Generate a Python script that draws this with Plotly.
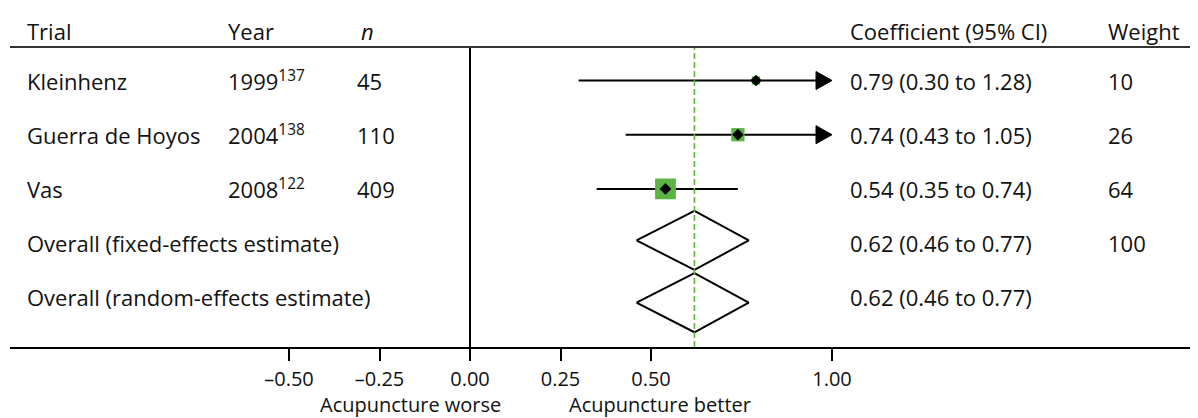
import plotly.graph_objects as go

# ---------------- data ----------------
trials = ["Kleinhenz", "Guerra de Hoyos", "Vas"]
years = ["1999", "2004", "2008"]
refs = ["137", "138", "122"]
n_vals = ["45", "110", "409"]
coef = [0.79, 0.74, 0.54]
ci_low = [0.30, 0.43, 0.35]
ci_high = [1.28, 1.05, 0.74]
weights = [10, 26, 64]

overall_labels = ["Overall (fixed-effects estimate)", "Overall (random-effects estimate)"]
overall_coef = [0.62, 0.62]
overall_low = [0.46, 0.46]
overall_high = [0.77, 0.77]
overall_weight = ["100", ""]

tick_vals = [-0.50, -0.25, 0.00, 0.25, 0.50, 1.00]
tick_text = ["\u20130.50", "\u20130.25", "0.00", "0.25", "0.50", "1.00"]
clip_max = 1.00  # CIs beyond this are drawn with an arrow

# ---------------- layout helpers ----------------
OFF = 8                      # page body margin
W, H = 1198 - OFF, 418 - OFF
L_M, R_M = 10 - OFF, 0
T_M = 47 - OFF
B_M = H - (347 - OFF)
X0_PX, UNIT_PX = 470 - OFF, 362          # figure pixel of x=0, pixels per unit
ROW0_PX, ROW_PX = 80.5 - OFF, 54.2       # figure pixel of row 1, pixels per row
plot_h = H - T_M - B_M
x_min = (L_M - X0_PX) / UNIT_PX
x_max = (W - R_M - X0_PX) / UNIT_PX
y_top = 1 - (ROW0_PX - T_M) / ROW_PX
y_bot = y_top + plot_h / ROW_PX

def page_x_to_paper(px):
    return (px - OFF - L_M) / (W - L_M - R_M)

def page_y_to_paper(py):
    return 1 - (py - OFF - T_M) / plot_h

FONT = "Open Sans, Noto Sans, DejaVu Sans, sans-serif"
FS = 22
FS_AX = 20
TXT = "#111111"
GREEN = "#5db443"

fig = go.Figure()

rows = [1, 2, 3]
diamond_rows = [3.95, 5.1]
diamond_half = 0.545
arrow_len = 16 / UNIT_PX
arrow_half = 9 / ROW_PX

for i, r in enumerate(rows):
    hi = min(ci_high[i], clip_max)
    end = hi - arrow_len if ci_high[i] > clip_max else hi
    fig.add_trace(go.Scatter(x=[ci_low[i], end], y=[r, r], mode="lines",
                             line=dict(color="black", width=2), hoverinfo="skip"))
    if ci_high[i] > clip_max:
        fig.add_trace(go.Scatter(x=[hi - arrow_len, hi, hi - arrow_len, hi - arrow_len],
                                 y=[r - arrow_half, r, r + arrow_half, r - arrow_half],
                                 mode="lines", fill="toself", fillcolor="black",
                                 line=dict(color="black", width=1), hoverinfo="skip"))

sq_sizes = [2.6 * (w ** 0.5) for w in weights]
fig.add_trace(go.Scatter(x=coef, y=rows, mode="markers",
                         marker=dict(symbol="square", size=sq_sizes, color=GREEN,
                                     opacity=1, line=dict(width=0)), hoverinfo="skip"))
fig.add_trace(go.Scatter(x=coef, y=rows, mode="markers",
                         marker=dict(symbol="diamond", size=9, color="black",
                                     opacity=1, line=dict(width=0)), hoverinfo="skip"))

for j, yr in enumerate(diamond_rows):
    fig.add_trace(go.Scatter(
        x=[overall_low[j], overall_coef[j], overall_high[j], overall_coef[j], overall_low[j]],
        y=[yr, yr - diamond_half, yr, yr + diamond_half, yr],
        mode="lines", line=dict(color="black", width=2), hoverinfo="skip"))

fig.add_shape(type="line", xref="x", yref="paper", x0=0, x1=0, y0=0, y1=1,
              line=dict(color="black", width=2))
fig.add_shape(type="line", xref="x", yref="paper", x0=overall_coef[0], x1=overall_coef[0],
              y0=0, y1=1, line=dict(color=GREEN, width=1.6, dash="6px,3px"))
fig.add_shape(type="line", xref="paper", yref="paper", x0=0, x1=1, y0=1, y1=1,
              line=dict(color="#333333", width=2))

# text table (page pixel columns)
col_px = {"trial": 26, "year": 227, "n": 356, "coef": 849, "weight": 1107}

def add_text(px, yref, y, text):
    fig.add_annotation(x=page_x_to_paper(px), y=y, xref="paper", yref=yref,
                       text=text, showarrow=False, xanchor="left", yanchor="middle",
                       borderpad=0, font=dict(family=FONT, size=FS, color=TXT))

hy = page_y_to_paper(31)
add_text(col_px["trial"], "paper", hy, "Trial")
add_text(col_px["year"], "paper", hy, "Year")
add_text(col_px["n"] + 4, "paper", hy, "<i>n</i>")
add_text(col_px["coef"], "paper", hy, "Coefficient (95% CI)")
add_text(col_px["weight"], "paper", hy, "Weight")

for i, r in enumerate(rows):
    add_text(col_px["trial"], "y", r, trials[i])
    add_text(col_px["year"], "y", r, f"{years[i]}<sup>{refs[i]}</sup>")
    add_text(col_px["n"], "y", r, n_vals[i])
    add_text(col_px["coef"], "y", r, f"{coef[i]:.2f} ({ci_low[i]:.2f} to {ci_high[i]:.2f})")
    add_text(col_px["weight"], "y", r, str(weights[i]))

for j in range(2):
    r = 4 + j
    add_text(col_px["trial"], "y", r, overall_labels[j])
    add_text(col_px["coef"], "y", r,
             f"{overall_coef[j]:.2f} ({overall_low[j]:.2f} to {overall_high[j]:.2f})")
    if overall_weight[j]:
        add_text(col_px["weight"], "y", r, overall_weight[j])

for px, lab in [(410, "Acupuncture worse"), (660, "Acupuncture better")]:
    fig.add_annotation(x=page_x_to_paper(px), y=page_y_to_paper(404),
                       xref="paper", yref="paper", text=lab, showarrow=False,
                       xanchor="center", yanchor="middle", borderpad=0,
                       font=dict(family=FONT, size=FS_AX, color=TXT))

fig.update_layout(
    width=W, height=H, showlegend=False,
    margin=dict(l=L_M, r=R_M, t=T_M, b=B_M, pad=0),
    paper_bgcolor="white", plot_bgcolor="white",
    xaxis=dict(range=[x_min, x_max], showgrid=False, zeroline=False,
               showline=True, linecolor="black", linewidth=2,
               ticks="outside", ticklen=12, tickwidth=2, tickcolor="black",
               tickvals=tick_vals, ticktext=tick_text, ticklabelstandoff=1,
               tickfont=dict(family=FONT, size=FS_AX, color=TXT)),
    yaxis=dict(range=[y_bot, y_top], showgrid=False, zeroline=False,
               showticklabels=False, showline=False, ticks=""),
)

fig.write_html("out.html")
